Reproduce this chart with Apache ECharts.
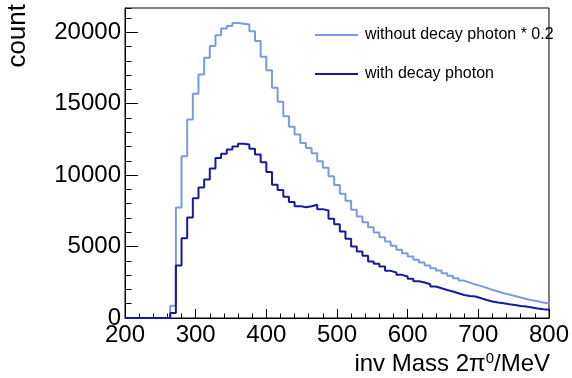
<!DOCTYPE html>
<html>
<head>
<meta charset="utf-8">
<script src="https://cdn.jsdelivr.net/npm/echarts@6/dist/echarts.min.js"></script>
<style>
	html, body { margin: 0; padding: 0; background: #fff; }
	#container { width: 572px; height: 378px; }
</style>
</head>
<body>
<div id="container"></div>
<script>
	// bin edges, 8 MeV wide
	var binEdges = [200,208,216,224,232,240,248,256,264,272,280,288,296,304,312,320,328,336,344,352,
		360,368,376,384,392,400,408,416,424,432,440,448,456,464,472,480,488,496,504,512,
		520,528,536,544,552,560,568,576,584,592,600,608,616,624,632,640,648,656,664,672,
		680,688,696,704,712,720,728,736,744,752,760,768,776,784,792,800];

	// without decay photon (already scaled * 0.2)
	var noDecay = [0,0,0,0,0,0,0,0,860,7740,11320,13890,15700,17050,18220,19040,19790,20260,20440,20650,
		20600,20540,20070,19390,18290,17350,16120,15140,14130,13380,12840,12250,11900,11530,10970,10520,9920,9310,8700,8200,
		7580,7110,6710,6360,5990,5660,5360,5050,4770,4540,4300,4070,3880,3670,3490,3320,3140,2950,2790,2620,
		2480,2340,2230,2110,1970,1850,1730,1640,1540,1430,1330,1240,1170,1080,1020];

	// with decay photon
	var withDecay = [0,0,0,0,0,0,0,0,350,3670,5590,7040,8380,9130,9700,10460,11200,11500,11790,12000,
		12190,12140,11840,11440,10900,10220,9330,8960,8490,8120,7830,7750,7820,7930,7620,7530,6950,6570,6060,5540,
		5010,4650,4350,3950,3790,3600,3300,3180,3020,2900,2740,2570,2480,2360,2200,2080,1960,1850,1730,1610,
		1540,1500,1380,1260,1150,1080,1030,960,910,840,800,730,660,610,570];

	var seriesNames = ['without decay photon * 0.2', 'with decay photon'];
	var xTicks = [200, 300, 400, 500, 600, 700, 800];
	var yMax = 21700;

	var font = 'Liberation Sans, Arial, Helvetica, sans-serif';

	//histogram -> step line points
	function toSteps(vals){
		var pts = [];
		for(var i = 0; i < vals.length; i++){
			pts.push([binEdges[i], vals[i]]);
		}
		pts.push([binEdges[binEdges.length - 1], vals[vals.length - 1]]);
		return pts;
	}

	var myChart = echarts.init(document.getElementById('container'), null, {renderer: 'canvas'});
	var option = {
		animation: false,
		grid: {
			left: 125,
			right: 22,
			top: 8,
			bottom: 60,
			show: true,
			borderColor: '#000',
			borderWidth: 1,
			backgroundColor: 'transparent'
		},
		legend: {
			orient: 'vertical',
			left: 310,
			top: 22,
			icon: 'rect',
			itemWidth: 43,
			itemHeight: 2,
			itemGap: 23,
			data: seriesNames,
			textStyle: {fontFamily: font, fontSize: 16, color: '#000', lineHeight: 16, padding: [0, 0, 0, 2]}
		},
		xAxis: {
			type: 'value',
			min: xTicks[0],
			max: xTicks[xTicks.length - 1],
			interval: 100,
			axisLine: {lineStyle: {color: '#000', width: 1}},
			axisTick: {inside: true, length: 9, lineStyle: {color: '#000'}},
			minorTick: {show: true, splitNumber: 5, length: 4.5, lineStyle: {color: '#000'}},
			splitLine: {show: false},
			axisLabel: {fontFamily: font, fontSize: 24, color: '#000', margin: 5}
		},
		yAxis: [{
			type: 'value',
			min: 0,
			max: yMax,
			interval: 5000,
			axisLine: {show: true, lineStyle: {color: '#000', width: 1}},
			axisTick: {show: true, inside: true, length: 13, lineStyle: {color: '#000'}},
			splitLine: {show: false},
			axisLabel: {
				fontFamily: font, fontSize: 24, color: '#000', margin: 4, showMaxLabel: false,
				formatter: function(v){ return String(v); }
			}
		}, {
			// minor ticks every 1000
			type: 'value',
			position: 'left',
			min: 0,
			max: yMax,
			interval: 1000,
			axisLine: {show: false},
			axisTick: {show: true, inside: true, length: 6.5, lineStyle: {color: '#000'}},
			splitLine: {show: false},
			axisLabel: {show: false}
		}],
		graphic: [{
			type: 'text',
			left: 5,
			top: 4,
			rotation: Math.PI / 2,
			style: {text: 'count', font: '26px ' + font, fill: '#000'}
		}, {
			type: 'text',
			right: 22,
			top: 351,
			style: {
				text: '{a|inv Mass 2π}{s|0}{a|/MeV}',
				fill: '#000',
				rich: {
					a: {fontFamily: font, fontSize: 24, color: '#000', lineHeight: 26},
					s: {fontFamily: font, fontSize: 15, color: '#000', verticalAlign: 'top', lineHeight: 26, padding: [0, 0, 8, 0]}
				}
			}
		}],
		series: [{
			name: seriesNames[0],
			type: 'line',
			step: 'end',
			symbol: 'none',
			data: toSteps(noDecay),
			lineStyle: {color: '#7b9be0', width: 2},
			itemStyle: {color: '#7b9be0'}
		}, {
			name: seriesNames[1],
			type: 'line',
			step: 'end',
			symbol: 'none',
			data: toSteps(withDecay),
			lineStyle: {color: '#1818a0', width: 2},
			itemStyle: {color: '#1818a0'}
		}]
	};
	myChart.setOption(option);
</script>
</body>
</html>
